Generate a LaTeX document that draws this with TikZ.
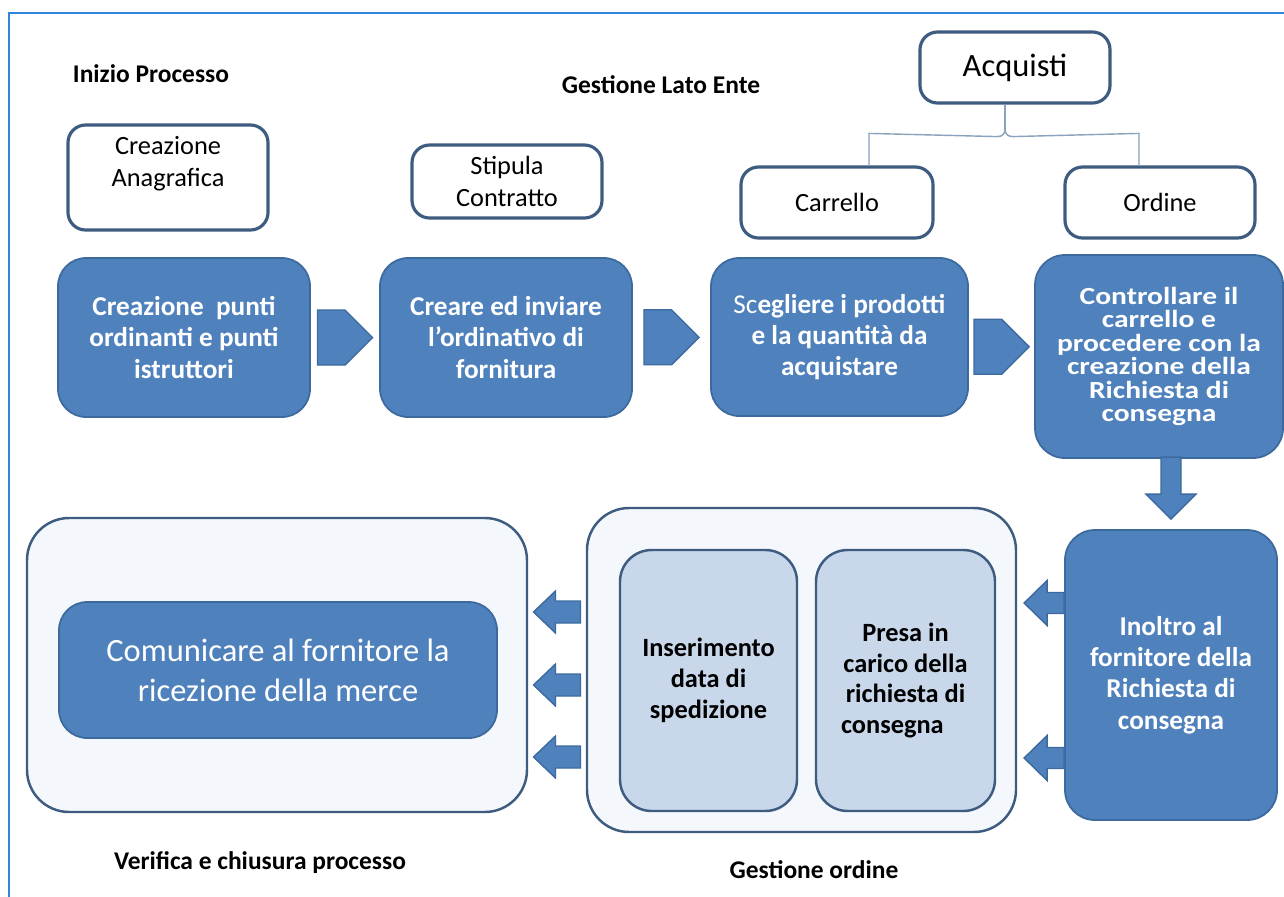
\documentclass[tikz,border=0pt]{standalone}
\usepackage{fontspec}
\setmainfont{Carlito}
\newfontfamily\widefont{Carlito}[FakeStretch=1.2]
\usetikzlibrary{calc}
\definecolor{blueacc}{HTML}{4F81BD}
\definecolor{bluedk}{HTML}{3C6A9E}
\definecolor{edge}{HTML}{3E5C80}
\definecolor{panelbg}{HTML}{F4F7FB}
\definecolor{subbg}{HTML}{C8D7EA}
\definecolor{treeline}{HTML}{8BA2BC}
\definecolor{framebl}{HTML}{2E86DE}
\tikzset{
  wh/.style 2 args={minimum width=#1*0.02cm, minimum height=#2*0.02cm},
  headlbl/.style={font=\bfseries\fontsize{14.5}{17}\selectfont},
  whitebox/.style={draw=edge, line width=1.8pt, fill=white, rounded corners=10pt,
    align=center, inner sep=0pt, font=\fontsize{15}{18}\selectfont},
  bluebox/.style={draw=bluedk, line width=1pt, fill=blueacc, rounded corners=16pt,
    align=center, inner sep=0pt, text=white, font=\bfseries\fontsize{15.5}{17.8}\selectfont},
  panel/.style={draw=edge, line width=1.4pt, fill=panelbg, rounded corners=24pt},
  subbox/.style={draw=edge, line width=1.4pt, fill=subbg, rounded corners=18pt,
    align=center, inner sep=0pt, font=\bfseries\fontsize{15}{17.6}\selectfont},
  blockarr/.style={draw=bluedk, line width=0.8pt, fill=blueacc},
  tree/.style={draw=treeline, line width=0.8pt},
  frame/.style={draw=framebl, line width=1.3pt}
}
\begin{document}
\begin{tikzpicture}[x=0.02cm,y=-0.02cm]
\useasboundingbox[fill=white] (0,0) rectangle (1284,896);
\draw[frame] (9,910) |- (1300,13);

% titoli delle fasi
\node[headlbl] (inizio) at (151,74) {Inizio Processo};
\node[headlbl] (ente) at (661,85) {Gestione Lato Ente};
\node[headlbl] (verlbl) at (260,863) {Verifica e chiusura processo};
\node[headlbl] (gestlbl) at (814,870) {Gestione ordine};

% riquadri bianchi
\node[whitebox, wh={200}{105}] (anag) at (168,177.5) {Creazione\\Anagrafica\\\mbox{}};
\node[whitebox, wh={190}{73}] (stip) at (507,181.5) {Stipula\\Contratto};
\node[whitebox, wh={190}{71}, font=\fontsize{18.5}{22}\selectfont] (acq) at (1015,67.5) {Acquisti};
\node[whitebox, wh={192}{71}] (carr) at (837,202.5) {Carrello};
\node[whitebox, wh={190}{71}] (ord) at (1160,202.5) {Ordine};

\coordinate (stem) at ($(acq.south)+(-10,24)$);
\draw[tree] (acq.south -| stem) -- (stem);
\draw[tree] ($(carr.north)+(32,0)$) -- ++(0,-32) -- ($(stem)+(-8,8)$)
  .. controls ($(stem)+(-2,8)$) and ($(stem)+(0,5)$) .. (stem);
\draw[tree] ($(ord.north)+(-21,0)$) -- ++(0,-32) -- ($(stem)+(8,8)$)
  .. controls ($(stem)+(2,8)$) and ($(stem)+(0,5)$) .. (stem);

% processo lato ente
\node[bluebox, wh={252}{159}] (b1) at (184,337.5) {Creazione\ \ punti\\ordinanti e punti\\istruttori};
\node[bluebox, wh={252}{159}] (b2) at (506,337.5) {Creare ed inviare\\l’ordinativo di\\fornitura};
\node[bluebox, wh={257}{158}] (b3) at (839.5,337) {{\mdseries Sc}egliere i prodotti\\e la quantità da\\acquistare};
\node[bluebox, wh={248}{203}, rounded corners=17pt, font=\widefont\bfseries\fontsize{14}{13.4}\selectfont] (b4) at (1159,356.5)
  {Controllare il\\carrello e\\procedere con la\\creazione della\\Richiesta di\\consegna};
\foreach \a/\b in {b1/b2,b2/b3,b3/b4}
  \draw[blockarr] ($(\a.east)!0.5!(\b.west)$) ++(-27.5,-27.5) -- ++(27.5,0) -- ++(27.5,27.5)
    -- ++(-27.5,27.5) -- ++(-27.5,0) -- cycle;

% inoltro e gestione ordine
\node[bluebox, wh={212}{290}, rounded corners=17pt] (ino) at (1171,675) {Inoltro al\\fornitore della\\Richiesta di\\consegna};
\draw[blockarr] ($(ino.north)+(-10,-72)$) -- ++(0,37) -- ++(-15,0) -- ++(25,25) -- ++(25,-25)
  -- ++(-15,0) -- ++(0,-37) -- cycle;

\node[panel, wh={429}{324}] (gest) at (801.5,670) {};
\node[subbox, wh={177}{261}] (ins) at (708.5,680.5) {Inserimento\\data di\\spedizione};
\node[subbox, wh={179}{261}] (presa) at (905.5,680.5) {Presa in\\carico della\\richiesta di\\consegna\hspace*{1em}};
\foreach \yy in {603,758}
  \draw[blockarr] ($(ino.west |- 0,\yy)+(-40,0)$) -- ++(23,-22.5) -- ++(0,12) -- ++(17,0)
    -- ++(0,21) -- ++(-17,0) -- ++(0,12) -- cycle;

% verifica e chiusura
\node[panel, wh={500}{294}] (ver) at (277,665) {};
\node[bluebox, wh={438}{136}, rounded corners=16pt, font=\fontsize{18.5}{22.7}\selectfont] (com) at (278,670)
  {Comunicare al fornitore la\\ricezione della merce};
\coordinate (gap) at ($(ver.east)!0.5!(gest.west)$);
\foreach \yy in {612,685,757}
  \draw[blockarr] ($(gap |- 0,\yy)+(-23.5,0)$) -- ++(22,-21) -- ++(0,10) -- ++(25,0)
    -- ++(0,22) -- ++(-25,0) -- ++(0,10) -- cycle;
\end{tikzpicture}
\end{document}
